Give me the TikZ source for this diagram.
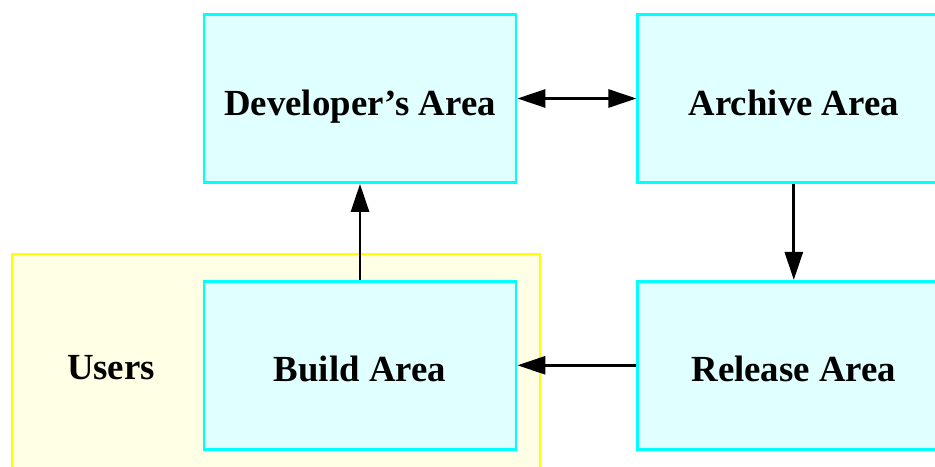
\documentclass[tikz,border=0pt]{standalone}
\usepackage{fontspec}
\setmainfont{Liberation Serif}
\usetikzlibrary{arrows.meta,positioning}
\definecolor{areaborder}{HTML}{00FFFF}
\definecolor{areafill}{HTML}{E0FFFF}
\definecolor{usersborder}{HTML}{FFFF00}
\definecolor{usersfill}{HTML}{FFFFE6}
\tikzstyle{areatext} = [font=\fontsize{18.4}{22}\selectfont\bfseries, text height=16.5pt, text depth=0pt]
\tikzstyle{area} = [areatext, rectangle, draw=areaborder, line width=1.4pt, fill=areafill,
    minimum width=156pt, minimum height=84pt, inner sep=0pt]
\tikzstyle{usersbox} = [rectangle, draw=usersborder, line width=1.4pt, fill=usersfill,
    minimum width=264pt, minimum height=118pt]
\tikzstyle{arrow} = [-{Triangle[length=14pt,width=9pt]}, line width=1.4pt, black]
\tikzstyle{dblarrow} = [{Triangle[length=14pt,width=9pt]}-{Triangle[length=14pt,width=9pt]}, line width=1.4pt, black]

\begin{document}
\begin{tikzpicture}[x=0.5pt, y=-0.5pt, node distance=48pt and 59.5pt]
\useasboundingbox (0,0) rectangle (935,466);
\node[usersbox] (users) at (276,372) {};
\node[areatext] (userslabel) at (111,362.5) {Users};
\node[area] (dev) at (360,98.5) {Developer’s Area};
\node[area, right=of dev] (archive) {Archive Area};
\node[area, below=of dev] (build) {Build Area};
\node[area, below=of archive] (release) {Release Area};

\draw[dblarrow] (dev) -- (archive);
\draw[arrow] (archive) -- (release);
\draw[arrow] (release) -- (build);
\draw[arrow] (build) -- (dev);
\end{tikzpicture}
\end{document}
